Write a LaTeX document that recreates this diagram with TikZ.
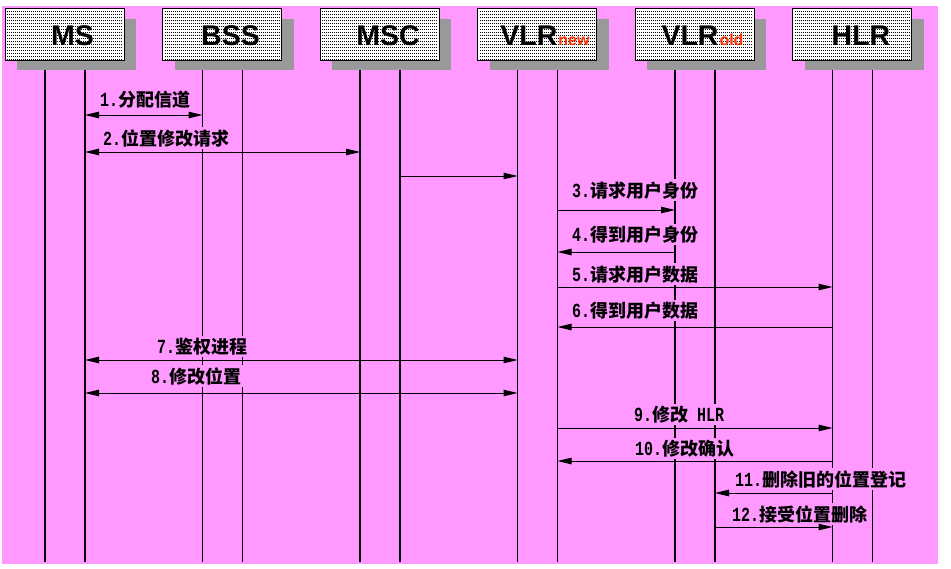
\documentclass[tikz,border=0pt]{standalone}
\usepackage{fontspec}
\usetikzlibrary{arrows.meta}
\newfontfamily\cjk{Noto Sans CJK SC}
\newfontfamily\mono{Liberation Mono}[FakeStretch=0.75]
\newfontfamily\hdfont{Liberation Sans}
\definecolor{bgpink}{RGB}{255,153,255}
\definecolor{shadowgray}{RGB}{153,153,153}
\definecolor{subred}{RGB}{255,51,0}
\newcommand\lnum[1]{{\mono\fontsize{20}{22}\selectfont #1}}
\newcommand\hsub[1]{{\fontsize{16}{18}\selectfont\color{subred}#1}}
\begin{document}
\begin{tikzpicture}[x=1pt,y=-1pt,
  every node/.style={inner sep=0pt, outer sep=0pt},
  dotrow/.style={black, line width=1pt, dash pattern=on 1pt off 1pt},
  entbox/.style={draw=black, line width=1pt, fill=white, minimum width=119pt, minimum height=52pt,
    path picture={\foreach \k in {3,6,...,51}{\draw[dotrow] ([yshift=-\k pt,xshift=2pt]path picture bounding box.north west) -- ([yshift=-\k pt,xshift=-2pt]path picture bounding box.north east);}}},
  shadowbox/.style={fill=shadowgray, minimum width=119pt, minimum height=51pt},
  enttext/.style={anchor=base, font=\hdfont\bfseries\fontsize{28.5}{30}\selectfont},
  lifeline/.style={line width=1.2pt, black},
  msg/.style={line width=1pt, >={Triangle[length=14pt,width=6.5pt]}},
  lbl/.style={anchor=base west, fill=bgpink, inner xsep=3pt, inner ysep=2pt, font=\cjk\bfseries\fontsize{18}{20}\selectfont}
]
\useasboundingbox (0,0) rectangle (951,568);
\fill[white] (0,0) rectangle (951,568);
\fill[bgpink] (2,6) rectangle (938,564);
\coordinate (bot) at (0,562);
% entities
\foreach \i/\nm in {0/ms,1/bss,2/msc,3/vlrn,4/vlro,5/hlr} {
  \pgfmathsetmacro\xo{5+157.5*\i}
  \node[shadowbox] (\nm S) at (\xo+71.5, 44.5) {};
  \node[entbox] (\nm) at (\xo+59.5, 34) {};
  \coordinate (\nm A) at (\xo+40,70);
  \coordinate (\nm B) at (\xo+80,70);
  \draw[lifeline] (\nm A) -- (\nm A |- bot);
  \draw[lifeline] (\nm B) -- (\nm B |- bot);
}
\node[enttext] (msT) at (72.5,45) {MS};
\node[enttext] (bssT) at (230.5,45) {BSS};
\node[enttext] (mscT) at (388,45) {MSC};
\node[enttext] (vlrnT) at (545,45) {VLR\kern1pt\hsub{new}};
\node[enttext] (vlroT) at (702.5,45) {VLR\kern1pt\hsub{old}};
\node[enttext] (hlrT) at (861,45) {HLR};
% message rows
\coordinate (m1) at (0,115);
\coordinate (m2) at (0,152);
\coordinate (m0) at (0,176);
\coordinate (m3) at (0,210);
\coordinate (m4) at (0,252);
\coordinate (m5) at (0,287);
\coordinate (m6) at (0,327);
\coordinate (m7) at (0,360);
\coordinate (m8) at (0,393);
\coordinate (m9) at (0,428);
\coordinate (m10) at (0,461);
\coordinate (m11) at (0,493);
\coordinate (m12) at (0,527);
% labels
\node[lbl] (l1) at (97,106) {\lnum{1.}分配信道};
\node[lbl] (l2) at (100,145) {\lnum{2.}位置修改请求};
\node[lbl] (l3) at (569,197) {\lnum{3.}请求用户身份};
\node[lbl] (l4) at (569,241) {\lnum{4.}得到用户身份};
\node[lbl] (l5) at (569,281) {\lnum{5.}请求用户数据};
\node[lbl] (l6) at (569,317) {\lnum{6.}得到用户数据};
\node[lbl] (l7) at (154,353) {\lnum{7.}鉴权进程};
\node[lbl] (l8) at (148,383) {\lnum{8.}修改位置};
\node[lbl] (l9) at (631,421) {\lnum{9.}修改\lnum{\ HLR}};
\node[lbl] (l10) at (632,455) {\lnum{10.}修改确认};
\node[lbl] (l11) at (732,486) {\lnum{11.}删除旧的位置登记};
\node[lbl] (l12) at (729,521) {\lnum{12.}接受位置删除};
% arrows
\draw[msg,<->] (msB |- m1) -- (bssA |- m1);
\draw[msg,<->] (msB |- m2) -- (mscA |- m2);
\draw[msg,->] (mscB |- m0) -- (vlrnA |- m0);
\draw[msg,->] (vlrnB |- m3) -- (vlroA |- m3);
\draw[msg,->] (vlroA |- m4) -- (vlrnB |- m4);
\draw[msg,->] (vlrnB |- m5) -- (hlrA |- m5);
\draw[msg,->] (hlrA |- m6) -- (vlrnB |- m6);
\draw[msg,<->] (msB |- m7) -- (vlrnA |- m7);
\draw[msg,<->] (msB |- m8) -- (vlrnA |- m8);
\draw[msg,->] (vlrnB |- m9) -- (hlrA |- m9);
\draw[msg,->] (hlrA |- m10) -- (vlrnB |- m10);
\draw[msg,->] (hlrA |- m11) -- (vlroB |- m11);
\draw[msg,->] (vlroB |- m12) -- (hlrA |- m12);
\end{tikzpicture}
\end{document}
